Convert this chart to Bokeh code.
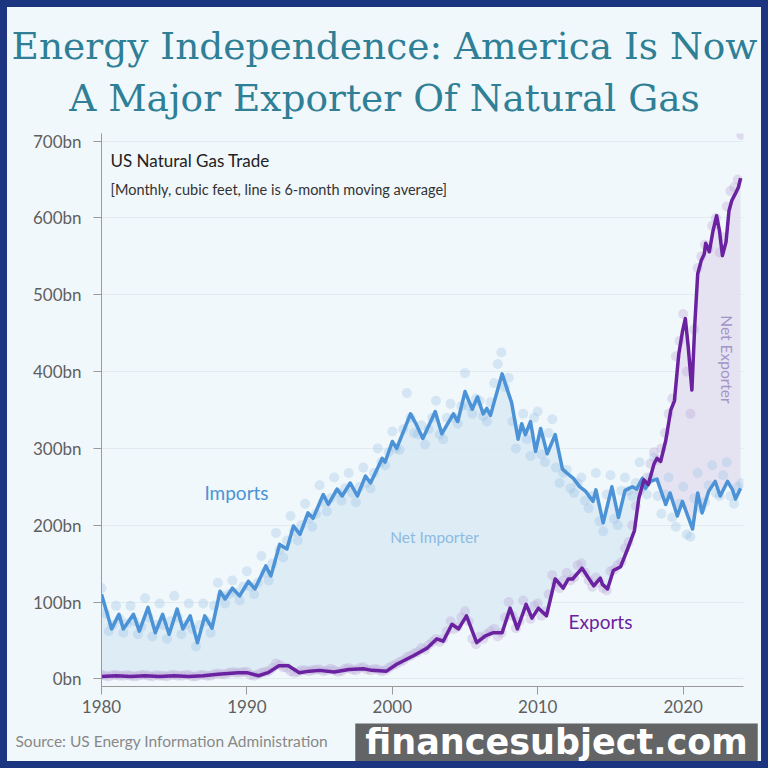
import numpy as np
from bokeh.plotting import figure
from bokeh.models import Range1d, FixedTicker, PrintfTickFormatter, Label
from bokeh.layouts import column
from bokeh.embed import file_html
from bokeh.resources import INLINE

# ---------------- data ----------------
# 6-month moving average lines (year, bn cubic feet)
IMP_T = [1980.0, 1980.7, 1981.2, 1981.5, 1982.2, 1982.6, 1983.2, 1983.7, 1984.2, 1984.65,
         1985.2, 1985.6, 1986.1, 1986.6, 1987.1, 1987.6, 1988.15, 1988.5, 1989.0, 1989.5,
         1990.1, 1990.55, 1991.3, 1991.65, 1992.25, 1992.75, 1993.2, 1993.65, 1994.2, 1994.55,
         1995.25, 1995.6, 1996.2, 1996.55, 1997.1, 1997.6, 1998.15, 1998.5, 1999.3, 1999.5,
         2000.0, 2000.3, 2001.25, 2001.6, 2002.1, 2002.95, 2003.4, 2004.2, 2004.5, 2005.0,
         2005.5, 2005.85, 2006.25, 2006.5, 2006.75, 2007.1, 2007.55, 2008.0, 2008.2, 2008.65,
         2008.9, 2009.15, 2009.5, 2009.85, 2010.2, 2010.65, 2011.2, 2011.7, 2012.0, 2012.45,
         2012.9, 2013.3, 2013.8, 2014.0, 2014.5, 2015.1, 2015.55, 2016.0, 2016.5, 2016.8,
         2017.2, 2017.4, 2017.75, 2018.2, 2018.8, 2019.1, 2019.6, 2019.95, 2020.65, 2021.0,
         2021.3, 2021.75, 2022.2, 2022.55, 2023.05, 2023.4, 2023.6, 2023.95]
IMP_V = [110, 65, 84, 65, 84, 62, 93, 60, 84, 58,
         91, 65, 82, 47, 82, 66, 114, 104, 118, 108,
         127, 117, 147, 134, 175, 169, 199, 188, 216, 209,
         240, 227, 247, 238, 255, 238, 264, 255, 287, 282,
         309, 300, 345, 333, 313, 348, 319, 345, 335, 374,
         351, 367, 345, 352, 343, 367, 397, 371, 360, 312,
         332, 318, 335, 296, 326, 293, 318, 273, 268, 261,
         250, 244, 231, 246, 203, 250, 210, 245, 250, 247,
         261, 248, 257, 260, 227, 242, 212, 231, 195, 242,
         216, 244, 257, 238, 257, 246, 234, 248]

EXP_T = [1980.0, 1981.0, 1982.0, 1983.0, 1984.0, 1985.0, 1986.0, 1987.0, 1988.0, 1988.7,
         1989.4, 1990.0, 1990.8, 1991.45, 1992.2, 1992.85, 1993.6, 1994.3, 1995.0, 1996.0,
         1997.0, 1998.0, 1998.6, 1999.6, 2000.3, 2001.45, 2002.4, 2003.05, 2003.5, 2004.1,
         2004.55, 2005.1, 2005.8, 2006.4, 2006.95, 2007.55, 2008.1, 2008.6, 2009.2, 2009.6,
         2010.05, 2010.6, 2011.2, 2011.75, 2012.1, 2012.4, 2013.05, 2013.5, 2013.85, 2014.3,
         2014.45, 2014.8, 2015.2, 2015.7, 2016.2, 2016.65, 2016.95, 2017.3, 2017.6, 2018.0,
         2018.2, 2018.45, 2018.8, 2019.15, 2019.4, 2019.7, 2019.95, 2020.15, 2020.35, 2020.6,
         2020.8, 2021.0, 2021.25, 2021.45, 2021.55, 2021.8, 2022.05, 2022.3, 2022.5, 2022.7,
         2022.95, 2023.15, 2023.35, 2023.6, 2023.8, 2023.95]
EXP_V = [3, 4, 3, 4, 3, 4, 3, 4, 6, 7,
         8, 8, 4, 8, 17, 17, 8, 10, 11, 9,
         12, 13, 11, 10, 19, 30, 40, 52, 49, 71,
         65, 82, 47, 56, 60, 60, 92, 65, 97, 79,
         92, 82, 130, 118, 130, 130, 144, 131, 121, 131,
         123, 117, 141, 146, 170, 193, 235, 259, 253, 280,
         287, 283, 310, 350, 362, 423, 452, 469, 432, 376,
         461, 527, 545, 553, 567, 556, 583, 603, 583, 551,
         569, 609, 623, 632, 640, 652]

# monthly raw values (sampled Jan / Apr / Jul / Oct), 1980-2023, plus Jan 2024
DOT_YEARS = list(range(1980, 2024))
IMP_JAN = [118, 95, 95, 105, 98, 108, 98, 98, 125, 128, 140, 160, 190, 212, 228, 252, 262, 268, 275, 300,
           322, 372, 330, 362, 358, 398, 362, 385, 392, 345, 348, 338, 272, 262, 268, 265, 262, 282, 288, 262,
           250, 268, 278, 282]
IMP_APR = [85, 78, 75, 80, 70, 80, 65, 75, 108, 112, 120, 138, 168, 192, 208, 230, 242, 242, 255, 282,
           300, 340, 305, 318, 340, 355, 342, 410, 335, 312, 292, 275, 248, 232, 205, 208, 245, 250, 238, 210,
           188, 222, 242, 238]
IMP_JUL = [62, 60, 58, 55, 52, 58, 42, 60, 98, 102, 110, 128, 158, 180, 198, 218, 232, 230, 248, 278,
           298, 320, 325, 312, 332, 345, 335, 425, 300, 290, 282, 255, 242, 222, 192, 200, 238, 240, 215, 198,
           185, 230, 238, 228]
IMP_OCT = [70, 72, 68, 70, 75, 70, 70, 95, 110, 120, 125, 150, 180, 200, 215, 235, 248, 250, 268, 295,
           325, 318, 340, 340, 355, 365, 360, 380, 325, 340, 320, 268, 255, 238, 240, 245, 255, 262, 240, 228,
           235, 252, 265, 250]
IMP_JAN_2024 = 255

EXP_JAN = [5, 5, 4, 5, 4, 5, 5, 5, 7, 9, 9, 8, 20, 10, 11, 12, 11, 14, 15, 12,
           17, 28, 40, 52, 75, 88, 55, 65, 100, 102, 98, 135, 138, 150, 132, 140, 170, 245, 295, 345,
           475, 535, 590, 615]
EXP_APR = [4, 4, 3, 4, 4, 4, 3, 4, 6, 8, 5, 9, 18, 8, 10, 10, 9, 12, 12, 10,
           19, 30, 38, 48, 65, 75, 52, 55, 82, 88, 82, 125, 128, 138, 125, 142, 178, 255, 285, 365,
           400, 550, 600, 635]
EXP_JUL = [3, 4, 4, 3, 3, 4, 3, 4, 6, 8, 4, 10, 15, 9, 11, 11, 10, 11, 11, 11,
           22, 33, 44, 52, 68, 52, 58, 60, 66, 78, 88, 118, 132, 128, 118, 148, 200, 262, 300, 420,
           345, 565, 555, 640]
EXP_OCT = [5, 5, 5, 5, 5, 5, 5, 6, 8, 9, 6, 14, 14, 11, 12, 13, 13, 14, 13, 14,
           24, 35, 48, 62, 80, 45, 62, 80, 75, 95, 110, 128, 148, 120, 115, 152, 225, 280, 320, 440,
           455, 560, 575, 650]
EXP_JAN_2024 = 708

Y_TICKS = [0, 100, 200, 300, 400, 500, 600, 700]
X_TICKS = [1980, 1990, 2000, 2010, 2020]
CROSS_YEAR = 2017.3

TITLE_1 = "Energy Independence: America Is Now"
TITLE_2 = "A Major Exporter Of Natural Gas"
SOURCE = "Source: US Energy Information Administration"

# ---------------- styling ----------------
BG = "#f1f8fb"
BORDER = "#1b3581"
TEAL = "#2f7f96"
BLUE = "#4b93d6"
PURPLE = "#6a22a0"
BLUE_FILL = "#dceaf5"
PURPLE_FILL = "#e4e1f0"
SANS = "Lato"

PAD = 7                 # page border width
W = 754                 # inner width
TOP_H = 120             # title strip height  (page y 7..127)
MAIN_H = 596            # chart height        (page y 127..723)
BOT_H = 38              # source strip height (page y 723..761)
FL, FR, FT, FB = 94, 18, 6, 37
X0, X1 = 1980, 2024.15
Y0, Y1 = -10, 710
PX_PER_YEAR = (W - FL - FR) / (X1 - X0)
PX_PER_BN = (MAIN_H - FT - FB) / (Y1 - Y0)
FRAME_BOTTOM_PAGE = PAD + TOP_H + MAIN_H - FB


def dx(px):
    """page pixel x -> data x of the chart"""
    return X0 + (px - PAD - FL) / PX_PER_YEAR


def dy(py):
    return Y0 + (FRAME_BOTTOM_PAGE - py) / PX_PER_BN


def strip(h):
    f = figure(width=W, height=h, output_backend="svg", toolbar_location=None,
               x_range=Range1d(0, W), y_range=Range1d(0, h),
               x_axis_type=None, y_axis_type=None, min_border=0,
               background_fill_color=BG, border_fill_color=BG)
    f.xgrid.grid_line_color = None
    f.ygrid.grid_line_color = None
    f.outline_line_color = None
    return f


# ---------------- title strip ----------------
top = strip(TOP_H)
for txt, py in ((TITLE_1, 45), (TITLE_2, 97)):
    top.add_layout(Label(x=384 - PAD, y=TOP_H - (py - PAD), text=txt, text_font="DejaVu Serif",
                         text_font_size="37.5px", text_color=TEAL, text_align="center",
                         text_baseline="middle"))

# ---------------- main chart ----------------
p = figure(width=W, height=MAIN_H, output_backend="svg", toolbar_location=None,
           x_range=Range1d(X0, X1), y_range=Range1d(Y0, Y1),
           min_border_left=FL, min_border_right=FR, min_border_top=FT, min_border_bottom=FB,
           background_fill_color=BG, border_fill_color=BG)
p.outline_line_color = None

p.xgrid.grid_line_color = None
p.ygrid.grid_line_color = "#e2ebf0"
p.ygrid.grid_line_width = 1
p.xaxis.ticker = FixedTicker(ticks=X_TICKS)
p.yaxis.ticker = FixedTicker(ticks=Y_TICKS)
p.yaxis.formatter = PrintfTickFormatter(format="%dbn")
for ax in (p.xaxis, p.yaxis):
    ax.axis_line_color = "#9a9a9a"
    ax.major_tick_line_color = "#9a9a9a"
    ax.minor_tick_line_color = None
    ax.major_tick_in = 0
    ax.major_tick_out = 8
    ax.major_label_text_font = SANS
    ax.major_label_text_font_size = "17px"
    ax.major_label_text_color = "#5f5f5f"
p.yaxis.major_label_standoff = 12
p.xaxis.major_label_standoff = 5

it = np.array(IMP_T); iv = np.array(IMP_V)
et = np.array(EXP_T); ev = np.array(EXP_V)

# fills between the two lines
mi = it <= CROSS_YEAR
me = et <= CROSS_YEAR
p.patch(np.concatenate([it[mi], et[me][::-1]]), np.concatenate([iv[mi], ev[me][::-1]]),
        fill_color=BLUE_FILL, fill_alpha=0.9, line_color=None)
mi2 = it >= CROSS_YEAR - 0.1
me2 = et >= CROSS_YEAR
p.patch(np.concatenate([et[me2], it[mi2][::-1]]), np.concatenate([ev[me2], iv[mi2][::-1]]),
        fill_color=PURPLE_FILL, fill_alpha=0.95, line_color=None)

# raw dots
yrs = np.array(DOT_YEARS, dtype=float)
dot_x = np.concatenate([yrs, yrs + 0.25, yrs + 0.5, yrs + 0.75, [2024.0]])
imp_dy = np.concatenate([IMP_JAN, IMP_APR, IMP_JUL, IMP_OCT, [IMP_JAN_2024]])
exp_dy = np.concatenate([EXP_JAN, EXP_APR, EXP_JUL, EXP_OCT, [EXP_JAN_2024]])
p.scatter(dot_x, imp_dy, size=10, fill_color="#9fc3e6", fill_alpha=0.35, line_color=None)
p.scatter(dot_x, exp_dy, size=10, fill_color="#b9a6d8", fill_alpha=0.35, line_color=None)

# moving-average lines
p.line(it, iv, line_color=BLUE, line_width=3.5, line_join="round")
p.line(et, ev, line_color=PURPLE, line_width=3.5, line_join="round")


def lab(text, px, py, size, color, align="left", angle=0.0):
    p.add_layout(Label(x=dx(px), y=dy(py), text=text, text_font=SANS, text_font_size=size,
                       text_color=color, text_align=align, text_baseline="middle", angle=angle))


lab("US Natural Gas Trade", 110, 160, "17px", "#222222")
lab("[Monthly, cubic feet, line is 6-month moving average]", 110, 189, "14.5px", "#333333")
lab("Imports", 236, 492, "19px", BLUE, align="center")
lab("Exports", 600, 621, "19px", PURPLE, align="center")
lab("Net Importer", 434, 536, "15.5px", "#8dbbe0", align="center")
lab("Net Exporter", 726, 359, "15.5px", "#a394c8", align="center", angle=-np.pi / 2)

# ---------------- source strip ----------------
bot = strip(BOT_H)
page_top_bot = PAD + TOP_H + MAIN_H
bot.add_layout(Label(x=15 - PAD, y=BOT_H - (740 - page_top_bot), text=SOURCE, text_font=SANS,
                     text_font_size="15.5px", text_color="#888888", text_align="left",
                     text_baseline="middle"))
# watermark overlay
bot.add_layout(Label(x=556 - PAD, y=BOT_H - (741 - page_top_bot), text="financesubject.com",
                     text_font="DejaVu Sans", text_font_size="35px", text_font_style="bold",
                     text_color="white", text_align="center", text_baseline="middle",
                     background_fill_color="#4a4a4a", background_fill_alpha=0.85,
                     padding=10, border_radius=12))

inner = column(column(top), column(p), column(bot), spacing=0,
               styles={"background-color": BG})
layout = column(inner, styles={"background-color": BORDER, "padding": f"{PAD}px"})
open("out.html", "w").write(file_html(layout, INLINE))
